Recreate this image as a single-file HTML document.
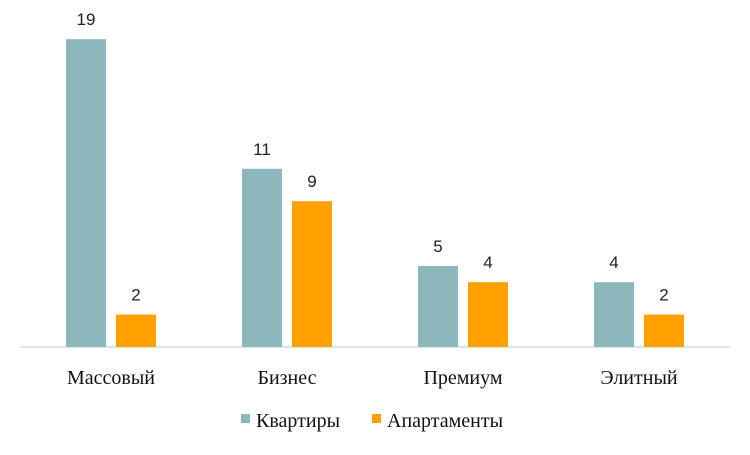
<!DOCTYPE html>
<html><head><meta charset="utf-8"><style>
body{margin:0;background:#fff;width:750px;height:450px;overflow:hidden}
</style></head><body>
<svg id="chart" width="750" height="450" xmlns="http://www.w3.org/2000/svg"></svg>
<script>
const categories=["Массовый","Бизнес","Премиум","Элитный"];
const kvartiry=[19,11,5,4];
const apartamenty=[2,9,4,2];
const seriesNames=["Квартиры","Апартаменты"];
const colors=["#8ab8bc","#ffa000"];
const svg=document.getElementById('chart');
const NS="http://www.w3.org/2000/svg";
const base=347, unit=16.2, x0=111, step=176, bw=40, gap=10;
const y=v=>base-v*unit;
const cx=i=>x0+i*step;
function mk(t,a){const e=document.createElementNS(NS,t);for(const k in a)e.setAttribute(k,a[k]);svg.appendChild(e);return e;}
const ax=mk('line',{x1:20,x2:730,y1:base,y2:base,stroke:'#c8c8c8','stroke-width':1});


[kvartiry,apartamenty].forEach((s,si)=>{
 s.forEach((v,i)=>{
  const bx=si===0?cx(i)-gap/2-bw:cx(i)+gap/2;
  const r=mk('rect',{x:bx,y:y(v),width:bw,height:v*unit,fill:colors[si]});
  
  
  const t=mk('text',{x:bx+bw/2,y:y(v)-14,'text-anchor':'middle','font-family':'Liberation Sans, sans-serif','font-size':17,fill:'#222'});
  t.textContent=v;
  
  
 });
});
categories.forEach((c,i)=>{
 const t=mk('text',{x:cx(i),y:384,'text-anchor':'middle','font-family':'Liberation Serif, serif','font-size':20,fill:'#111'});
 t.textContent=c;
 
 
});
const lx=[241,372];
seriesNames.forEach((n,i)=>{
 const r=mk('rect',{x:lx[i],y:414,width:9,height:9,fill:colors[i]});
 
 
 const t=mk('text',{x:lx[i]+15,y:427,'font-family':'Liberation Serif, serif','font-size':20,fill:'#111'});
 t.textContent=n;
 
 
});
</script>
</body></html>
